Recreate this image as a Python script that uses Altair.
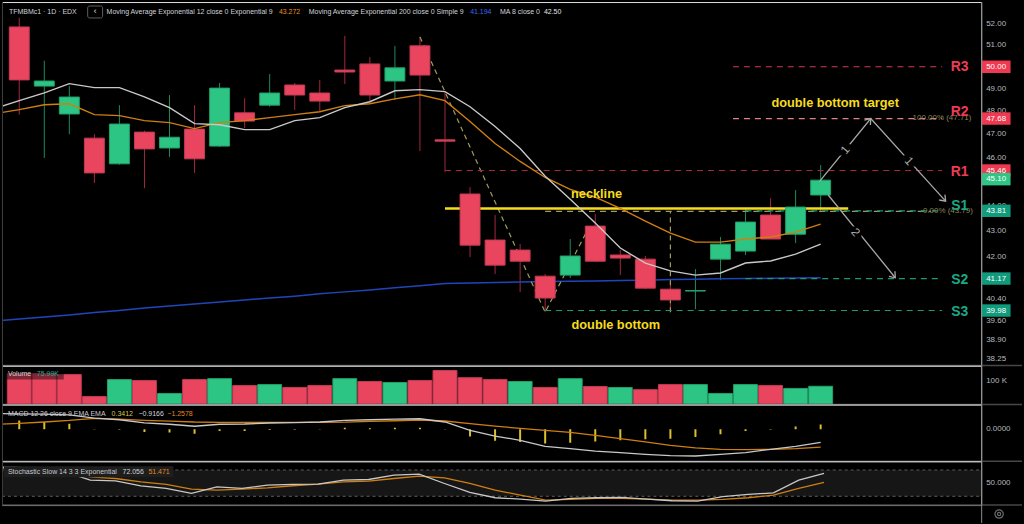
import altair as alt
import pandas as pd

FONT = "Liberation Sans"

# ---------------- price bars (trading days May 20 .. Jul 3) ----------------
bar_idx = list(range(33))
opens = [51.86, 49.12, 47.88, 46.83, 45.74, 47.09, 46.41, 47.22, 46.49, 47.93, 48.27,
         49.17, 48.81, 49.85, 50.13, 49.35, 50.97, 46.76, 44.49, 42.65, 42.26, 41.26,
         41.30, 43.20, 42.07, 41.91, 40.77, 40.70, 41.91, 42.22, 43.64, 42.88, 44.45]
highs = [52.30, 50.28, 49.12, 47.00, 48.27, 47.15, 48.72, 48.27, 49.26, 48.58, 49.67,
         49.26, 49.40, 51.44, 50.45, 50.97, 51.39, 48.87, 44.77, 43.64, 42.49, 41.34,
         42.69, 43.68, 42.26, 42.03, 41.11, 41.53, 42.77, 43.88, 44.32, 44.65, 45.69]
lows = [47.85, 45.99, 47.00, 44.94, 45.70, 44.73, 46.03, 45.36, 46.45, 47.27, 48.20,
        48.06, 48.00, 49.21, 48.32, 48.50, 46.28, 45.40, 41.99, 41.34, 40.66, 39.92,
        41.19, 41.80, 41.30, 40.77, 39.95, 40.03, 41.11, 42.07, 42.69, 42.53, 43.76]
closes = [49.40, 49.35, 48.63, 45.36, 47.44, 46.37, 46.87, 45.95, 49.03, 47.57, 48.81,
          48.72, 48.45, 49.76, 48.72, 49.95, 49.62, 46.70, 42.45, 41.68, 41.83, 40.44,
          42.03, 41.83, 41.95, 40.81, 40.37, 40.72, 42.49, 43.36, 42.69, 43.96, 45.06]
volume_k = [129, 129, 125, 33, 104, 100, 46, 104, 108, 79, 83, 71, 79, 108, 96, 92, 100,
            142, 112, 104, 96, 71, 108, 75, 71, 62, 83, 83, 46, 83, 79, 67, 76]
volume_dir = ["d", "d", "d", "d", "u", "d", "u", "d", "u", "d", "u", "d", "d", "u", "d", "u", "d",
              "d", "d", "d", "u", "d", "u", "d", "u", "d", "d", "u", "u", "u", "d", "u", "u"]

# ---------------- indicator lines (one bar earlier, May 19 .. Jul 3) ----------------
line_idx = list(range(-1, 33))
ma8 = [48.11, 48.47, 48.82, 49.23, 49.05, 49.05, 48.64, 48.16, 47.46, 47.41, 47.20, 47.20,
       47.59, 47.72, 48.16, 48.42, 48.91, 48.96, 48.87, 48.20, 47.33, 46.39, 45.22, 44.28,
       43.32, 42.34, 41.76, 41.46, 41.30, 41.38, 41.76, 41.84, 42.10, 42.49]
ema12 = [47.89, 48.07, 48.29, 48.33, 47.85, 47.81, 47.59, 47.50, 47.24, 47.50, 47.59, 47.72,
         47.85, 47.98, 48.25, 48.33, 48.55, 48.73, 48.47, 47.55, 46.60, 45.84, 45.17, 44.68,
         44.36, 43.91, 43.40, 42.92, 42.57, 42.57, 42.69, 42.77, 42.96, 43.28]
ema200 = [39.60, 39.67, 39.74, 39.82, 39.91, 39.98, 40.07, 40.15, 40.22, 40.29, 40.37, 40.44,
          40.51, 40.60, 40.67, 40.74, 40.82, 40.90, 40.98, 41.00, 41.02, 41.04, 41.06, 41.07,
          41.08, 41.10, 41.11, 41.13, 41.14, 41.16, 41.17, 41.18, 41.19, 41.20]
macd_line = [1.12, 1.10, 1.08, 1.02, 0.80, 0.68, 0.46, 0.36, 0.22, 0.36, 0.38, 0.45, 0.47,
             0.52, 0.63, 0.68, 0.73, 0.75, 0.52, -0.07, -0.47, -0.77, -1.20, -1.36, -1.53,
             -1.64, -1.76, -1.85, -1.88, -1.76, -1.64, -1.41, -1.20, -0.92]
macd_signal = [0.35, 0.42, 0.52, 0.63, 0.78, 0.72, 0.64, 0.58, 0.52, 0.50, 0.50, 0.50, 0.50,
               0.50, 0.51, 0.56, 0.61, 0.66, 0.59, 0.40, 0.23, 0.07, -0.07, -0.21, -0.42,
               -0.66, -0.89, -1.13, -1.31, -1.41, -1.43, -1.41, -1.36, -1.26]
macd_hist = [0.63, 0.52, 0.40, 0.02, -0.03, -0.19, -0.23, -0.31, -0.12, -0.12, -0.05, -0.03,
             0.02, 0.12, 0.08, 0.12, 0.12, 0.03, -0.50, -0.80, -0.89, -1.00, -0.94, -0.85,
             -0.77, -0.70, -0.66, -0.54, -0.35, -0.12, -0.02, 0.21, 0.34]
stoch_k = [87.0, 86.4, 83.3, 75.8, 56.8, 55.3, 44.0, 38.0, 26.5, 41.7, 38.0, 45.5, 47.0, 47.7,
           56.8, 58.3, 68.2, 70.5, 49.2, 28.8, 16.7, 13.6, 9.1, 15.2, 16.7, 17.4, 13.6, 9.8,
           9.1, 19.0, 24.2, 28.0, 56.8, 72.1]
stoch_d = [85.0, 84.0, 79.5, 74.2, 64.4, 60.6, 53.0, 47.0, 36.4, 34.1, 36.4, 39.4, 44.0, 47.7,
           53.0, 54.5, 60.6, 65.9, 62.0, 49.2, 34.1, 22.7, 11.4, 12.9, 15.2, 15.2, 13.6, 11.4,
           11.4, 12.9, 16.7, 22.7, 38.0, 51.5]

# ---------------- axes ----------------
tick_idx = [1, 3, 5, 8, 10, 12, 14, 16, 18, 20, 22, 24, 26, 28, 30, 32, 34, 36, 38]
tick_lab = ["21", "25", "27", "Jun", "3", "5", "9", "11", "15", "17", "19", "23", "25", "29",
            "Jul", "3", "7", "9", "13"]
price_ticks = [52, 51, 50, 49, 48, 47, 46, 44, 43, 42, 40.4, 39.6, 38.9, 38.25]
vol_ticks = [100]
macd_ticks = [0]
stoch_ticks = [50]

# ---------------- drawings ----------------
level_names = ["R3", "R2", "R1", "S1", "S2", "S3"]
level_prices = [50.00, 47.68, 45.46, 43.81, 41.17, 39.98]
level_start = [28.5, 28.5, 17.0, 29.0, 29.0, 21.0]
level_end = [36.85, 36.85, 36.85, 36.85, 36.85, 36.85]
level_label_prices = [50.00, 47.97, 45.40, 44.02, 41.11, 39.92]
level_label_x = [37.55] * 6

tag_prices = [50.00, 47.68, 45.46, 45.10, 43.81, 41.17, 39.98]
tag_kind = ["r", "r", "r", "g", "t", "t", "t"]

pattern_i = [16.0, 21.0, 22.62]
pattern_p = [51.39, 39.92, 42.91]
fib_prices = [47.71, 43.79]
fib_text = ["100.00% (47.71)", "0.00% (43.79)"]
neck_price = 43.90

arrow1_i = [31.95, 34.0, 36.99]
arrow1_p = [45.00, 47.68, 44.20]
arrow2_i = [32.3, 34.98]
arrow2_p = [44.45, 41.20]
head_i = [34.0, 36.99, 34.98]
head_p = [47.68, 44.20, 41.20]
head_ang = [310, 47, 50]
wave_txt = ["1", "1", "2"]
wave_i = [32.97, 35.53, 33.40]
wave_p = [46.33, 45.86, 42.96]
wave_ang = [310, 47, 50]

# ---------------- styling ----------------
BG = "#000000"
UP, DOWN = "#2cc584", "#e9455f"
UP_E, DOWN_E = "#22a06b", "#c23a52"
UP_W, DOWN_W = "#1f8a5c", "#a3283d"
SEP = "#474747"
AXL = "#8c8c8c"
LBL = "#b7b9bf"
TXT = "#d1d4dc"
ORANGE = "#cf7f10"
WHITE_L = "#c8c8c8"
OLIVE = "#a39d58"
YEL = "#f5dc1e"
HS = 7.0  # header font size
W = 983
H_MAIN, H_VOL, H_MACD, H_STO = 365, 39, 57, 44

xs = alt.Scale(domain=[-0.49, 38.21], nice=False, zero=False)
ys = alt.Scale(type="log", domain=[38.01, 53.06], nice=False, zero=False)
vs = alt.Scale(domain=[0, 162.5], nice=False, zero=False)
ms = alt.Scale(domain=[-2.25, 1.76], nice=False, zero=False)
ss = alt.Scale(domain=[0, 100], nice=False, zero=False)

one = pd.DataFrame({"a": [0]})


def X(f):
    return alt.X(f, type="quantitative", scale=xs, axis=None)


def label(text, x, y, color=TXT, size=HS, weight="normal", align="left"):
    return alt.Chart(one).mark_text(text=text, font=FONT, fontSize=size, fontWeight=weight,
                                    color=color, align=align, baseline="middle").encode(
        x=alt.value(x), y=alt.value(y))


def separator(h):
    return alt.Chart(one).mark_rule(color=SEP, strokeWidth=1.5).encode(
        x=alt.value(0), x2=alt.value(1024), y=alt.value(h))


def left_edge(h):
    return alt.Chart(one).mark_rule(color="#3a3a3a", strokeWidth=1).encode(
        x=alt.value(0.5), y=alt.value(0), y2=alt.value(h))


def right_edge(h):
    return alt.Chart(one).mark_rule(color=AXL, strokeWidth=1).encode(
        x=alt.value(983.5), y=alt.value(0), y2=alt.value(h))


def axis_labels(values, texts, scale):
    d = pd.DataFrame({"v": values, "t": texts})
    return alt.Chart(d).mark_text(font=FONT, fontSize=8, color=LBL, align="left",
                                  baseline="middle").encode(
        x=alt.value(988), y=alt.Y("v:Q", scale=scale, axis=None), text="t:N")


# ---------------- main price panel ----------------
cdf = pd.DataFrame({"i": bar_idx, "open": opens, "high": highs, "low": lows, "close": closes})
cdf["dir"] = ["u" if c >= o else "d" for o, c in zip(opens, closes)]
ldf = pd.DataFrame({"i": line_idx, "ma8": ma8, "ema12": ema12, "ema200": ema200})

wicks = alt.Chart(cdf).mark_rule(strokeWidth=1, clip=True).encode(
    x=X("i"), y=alt.Y("low:Q", scale=ys, axis=None), y2="high:Q",
    color=alt.Color("dir:N", scale=alt.Scale(domain=["u", "d"], range=[UP_W, DOWN_W]), legend=None))
bodies = alt.Chart(cdf).mark_bar(size=20, clip=True, strokeWidth=1).encode(
    x=X("i"), y=alt.Y("open:Q", scale=ys, axis=None), y2="close:Q",
    fill=alt.Fill("dir:N", scale=alt.Scale(domain=["u", "d"], range=[UP, DOWN]), legend=None),
    stroke=alt.Stroke("dir:N", scale=alt.Scale(domain=["u", "d"], range=[UP_E, DOWN_E]), legend=None))


def price_line(field, color, width=1.4):
    return alt.Chart(ldf).mark_line(color=color, strokeWidth=width, clip=True).encode(
        x=X("i"), y=alt.Y(field + ":Q", scale=ys, axis=None))


lv = pd.DataFrame({"name": level_names, "p": level_prices, "s": level_start, "e": level_end,
                   "lp": level_label_prices, "lx": level_label_x})
lv_colors = ["#d8384f", "#e47f8c", "#a52a3e", "#1c9a7a", "#1c9a7a", "#1c9a7a"]
levels = alt.Chart(lv).mark_rule(strokeDash=[6, 5], strokeWidth=1.2).encode(
    x=X("s"), x2="e", y=alt.Y("p:Q", scale=ys, axis=None),
    color=alt.Color("name:N", scale=alt.Scale(domain=level_names, range=lv_colors), legend=None))
level_labels = alt.Chart(lv).mark_text(font=FONT, fontSize=14, fontWeight="bold",
                                       align="center", baseline="middle").encode(
    x=X("lx"), y=alt.Y("lp:Q", scale=ys, axis=None), text="name:N",
    color=alt.Color("name:N", scale=alt.Scale(domain=level_names,
                                              range=["#ee3b54"] * 3 + ["#1aa886"] * 3), legend=None))

pdf = pd.DataFrame({"i": pattern_i, "p": pattern_p, "k": [0, 1, 2]})
pattern = alt.Chart(pdf).mark_line(color=OLIVE, strokeDash=[5, 4], strokeWidth=1.2).encode(
    x=X("i"), y=alt.Y("p:Q", scale=ys, axis=None), order="k:Q")
fib0 = alt.Chart(pd.DataFrame({"s": [21.0], "e": [36.4], "p": [fib_prices[1]]})).mark_rule(
    color=OLIVE, strokeDash=[6, 5], strokeWidth=1.2).encode(
    x=X("s"), x2="e", y=alt.Y("p:Q", scale=ys, axis=None))
fibv = alt.Chart(pd.DataFrame({"i": [26.0], "a": [pattern_p[1]], "b": [fib_prices[1]]})).mark_rule(
    color=OLIVE, strokeDash=[5, 4], strokeWidth=1.2).encode(
    x=X("i"), y=alt.Y("a:Q", scale=ys, axis=None), y2="b:Q")
fibt = alt.Chart(pd.DataFrame({"t": fib_text, "p": fib_prices, "x": [38.02, 38.08]})).mark_text(
    font=FONT, fontSize=8, color="#8a8657", align="right", baseline="middle").encode(
    x=X("x"), y=alt.Y("p:Q", scale=ys, axis=None), text="t:N")
neck = alt.Chart(pd.DataFrame({"s": [17.0], "e": [33.1], "p": [neck_price]})).mark_rule(
    color=YEL, strokeWidth=2.5).encode(x=X("s"), x2="e", y=alt.Y("p:Q", scale=ys, axis=None))

a1 = alt.Chart(pd.DataFrame({"i": arrow1_i, "p": arrow1_p, "k": [0, 1, 2]})).mark_line(
    color="#a8a8a8", strokeWidth=1.3).encode(x=X("i"), y=alt.Y("p:Q", scale=ys, axis=None), order="k:Q")
a2 = alt.Chart(pd.DataFrame({"i": arrow2_i, "p": arrow2_p, "k": [0, 1]})).mark_line(
    color="#a8a8a8", strokeWidth=1.3).encode(x=X("i"), y=alt.Y("p:Q", scale=ys, axis=None), order="k:Q")
heads = alt.Chart(pd.DataFrame({"i": head_i, "p": head_p, "ang": head_ang})).mark_point(
    shape="M-1,-0.75L0,0L-1,0.75", filled=False, size=110, strokeWidth=1.3, color="#a8a8a8",
    opacity=1).encode(x=X("i"), y=alt.Y("p:Q", scale=ys, axis=None), angle=alt.Angle("ang:Q", scale=None))
wdf = pd.DataFrame({"t": wave_txt, "i": wave_i, "p": wave_p, "ang": wave_ang})
wave_gap = alt.Chart(wdf).mark_point(shape="square", filled=True, color=BG, size=130, opacity=1).encode(
    x=X("i"), y=alt.Y("p:Q", scale=ys, axis=None))
wave_lbl = alt.Chart(wdf).mark_text(font=FONT, fontSize=12, color="#a8a8a8", baseline="middle").encode(
    x=X("i"), y=alt.Y("p:Q", scale=ys, axis=None), text="t:N", angle=alt.Angle("ang:Q", scale=None))

notes = alt.Chart(pd.DataFrame({"t": ["neckline", "double bottom", "double bottom target"],
                                "i": [23.05, 23.82, 32.58], "p": [44.50, 39.44, 48.38]})).mark_text(
    font=FONT, fontSize=12.8, fontWeight="bold", color=YEL, baseline="middle").encode(
    x=X("i"), y=alt.Y("p:Q", scale=ys, axis=None), text="t:N")

tdf = pd.DataFrame({"p": tag_prices, "k": tag_kind, "t": [f"{v:.2f}" for v in tag_prices]})
tag_box = alt.Chart(tdf).mark_point(shape="M-1,-0.43H1V0.43H-1Z", filled=True, size=841,
                                    opacity=1, strokeWidth=0).encode(
    x=alt.value(998), y=alt.Y("p:Q", scale=ys, axis=None),
    color=alt.Color("k:N", scale=alt.Scale(domain=["r", "g", "t"],
                                           range=["#ef3950", "#2fc584", "#0f9b7c"]), legend=None))
tag_txt = alt.Chart(tdf).mark_text(font=FONT, fontSize=8, color="#ffffff", baseline="middle").encode(
    x=alt.value(998), y=alt.Y("p:Q", scale=ys, axis=None), text="t:N")

hdr_box = alt.Chart(one).mark_rect(stroke="#5e5e5e", fill=BG, strokeWidth=1, cornerRadius=2).encode(
    x=alt.value(86), x2=alt.value(101), y=alt.value(4), y2=alt.value(16))

main = alt.layer(
    axis_labels(price_ticks, [f"{v:.2f}" for v in price_ticks], ys),
    wicks, price_line("ema200", "#1f46b8", 1.5), pattern, fib0, fibv, levels, neck,
    bodies, price_line("ema12", ORANGE, 1.4), price_line("ma8", WHITE_L, 1.4),
    a1, a2, heads, wave_gap, wave_lbl, notes, fibt, level_labels, tag_box, tag_txt,
    hdr_box,
    label("TFMBMc1 · 1D · EDX", 7, 10),
    label("‹", 93.5, 9.5, size=10, align="center"),
    label("Moving Average Exponential 12 close 0 Exponential 9", 105, 10),
    label("43.272", 278, 10, color="#e8951c"),
    label("Moving Average Exponential 200 close 0 Simple 9", 308, 10),
    label("41.194", 470, 10, color="#3a6cf4"),
    label("MA 8 close 0", 500, 10),
    label("42.50", 544, 10, color="#e6e6e6"),
    separator(H_MAIN), left_edge(H_MAIN), right_edge(H_MAIN),
).resolve_scale(color="independent", fill="independent", stroke="independent"
                ).properties(width=W, height=H_MAIN)

# ---------------- volume panel ----------------
vdf = pd.DataFrame({"i": bar_idx, "v": volume_k, "dir": volume_dir})
vol_bars = alt.Chart(vdf).mark_bar(size=24, strokeWidth=1, clip=True).encode(
    x=X("i"), y=alt.Y("v:Q", scale=vs, axis=None), y2=alt.datum(0),
    fill=alt.Fill("dir:N", scale=alt.Scale(domain=["u", "d"], range=[UP, DOWN]), legend=None),
    stroke=alt.Stroke("dir:N", scale=alt.Scale(domain=["u", "d"], range=[UP_E, DOWN_E]), legend=None))
vol_box = alt.Chart(one).mark_rect(fill="#000000", opacity=0.45).encode(
    x=alt.value(2), x2=alt.value(62), y=alt.value(3), y2=alt.value(14))
vol = alt.layer(
    vol_bars, vol_box, axis_labels(vol_ticks, ["100 K"], vs),
    label("Volume", 6, 8.5), label("75.99K", 35, 8.5, color="#22ab94"),
    separator(H_VOL), left_edge(H_VOL), right_edge(H_VOL),
).properties(width=W, height=H_VOL)

# ---------------- MACD panel ----------------
mdf = pd.DataFrame({"i": line_idx, "m": macd_line, "s": macd_signal})
hdf = pd.DataFrame({"i": bar_idx, "h": macd_hist})
hist = alt.Chart(hdf).mark_bar(size=2, color="#dcbf2c", clip=True).encode(
    x=X("i"), y=alt.Y("h:Q", scale=ms, axis=None), y2=alt.datum(0))
m_line = alt.Chart(mdf).mark_line(color=WHITE_L, strokeWidth=1.3, clip=True).encode(
    x=X("i"), y=alt.Y("m:Q", scale=ms, axis=None))
s_line = alt.Chart(mdf).mark_line(color=ORANGE, strokeWidth=1.3, clip=True).encode(
    x=X("i"), y=alt.Y("s:Q", scale=ms, axis=None))
macd = alt.layer(
    hist, s_line, m_line, axis_labels(macd_ticks, ["0.0000"], ms),
    label("MACD 12 26 close 9 EMA EMA", 6, 10, color="#c8cbd2"),
    label("0.3412", 110, 10, color="#d8c24a"),
    label("\u22120.9166", 137, 10, color=TXT),
    label("\u22121.2578", 166, 10, color="#e08a1e"),
    separator(H_MACD), left_edge(H_MACD), right_edge(H_MACD),
).properties(width=W, height=H_MACD)

# ---------------- Stochastic panel ----------------
sdf = pd.DataFrame({"i": line_idx, "k": stoch_k, "d": stoch_d})
x_labels = {i: l for i, l in zip(tick_idx, tick_lab)}
label_arr = "[" + ",".join("'" + x_labels.get(k, "") + "'" for k in range(39)) + "]"
x_axis = alt.Axis(values=tick_idx, labelExpr=label_arr + "[round(datum.value)]",
                  labelColor=LBL, labelFontSize=8, labelFont=FONT, domain=False, ticks=False,
                  grid=False, labelPadding=5, title=None, labelFlush=False, labelOverlap=False,
                  labelFontWeight={"condition": {"test": "datum.value == 8 || datum.value == 30",
                                                 "value": "bold"}, "value": "normal"})
band = alt.Chart(one).mark_rect(color="#161616").encode(
    x=alt.value(0), x2=alt.value(W),
    y=alt.YDatum(80, scale=ss, axis=None), y2=alt.Y2Datum(20))
band_lines = alt.Chart(pd.DataFrame({"b": [20, 80]})).mark_rule(
    color="#5c5c5c", strokeDash=[3, 3], strokeWidth=1).encode(
    x=alt.value(0), x2=alt.value(W), y=alt.Y("b:Q", scale=ss, axis=None))
k_line = alt.Chart(sdf).mark_line(color=WHITE_L, strokeWidth=1.3, clip=True).encode(
    x=alt.X("i:Q", scale=xs, axis=x_axis), y=alt.Y("k:Q", scale=ss, axis=None))
d_line = alt.Chart(sdf).mark_line(color=ORANGE, strokeWidth=1.3, clip=True).encode(
    x=X("i"), y=alt.Y("d:Q", scale=ss, axis=None))
sto_box = alt.Chart(one).mark_rect(fill="#1e1e1e").encode(
    x=alt.value(2), x2=alt.value(172), y=alt.value(5), y2=alt.value(16))
gear = alt.Chart(one).mark_point(shape="circle", filled=False, size=70, color="#9a9a9a",
                                 strokeWidth=1.2).encode(x=alt.value(1001), y=alt.value(53))
gear_in = alt.Chart(one).mark_point(shape="circle", filled=False, size=10, color="#9a9a9a",
                                    strokeWidth=1.2).encode(x=alt.value(1001), y=alt.value(53))
axis_row_line = alt.Chart(one).mark_rule(color=AXL, strokeWidth=1).encode(
    x=alt.value(983.5), y=alt.value(0), y2=alt.value(63))
bottom_pad = alt.Chart(one).mark_rule(color=BG, strokeWidth=1).encode(
    x=alt.value(0), x2=alt.value(1024), y=alt.value(62.5))
sto = alt.layer(
    band, band_lines, d_line, k_line, sto_box, axis_labels(stoch_ticks, ["50.000"], ss),
    label("Stochastic Slow 14 3 3 Exponential", 6, 10.5, color="#c8cbd2"),
    label("72.056", 121, 10.5, color=TXT),
    label("51.471", 147, 10.5, color="#e08a1e"),
    separator(H_STO), left_edge(H_STO), axis_row_line, gear, gear_in, bottom_pad,
).properties(width=W, height=H_STO)

chart = alt.vconcat(main, vol, macd, sto, spacing=0).properties(
    bounds="flush", padding=0, background=BG
).configure_view(strokeWidth=0).configure(font=FONT)

chart.save("out.html", embed_options={"renderer": "svg", "actions": False})
